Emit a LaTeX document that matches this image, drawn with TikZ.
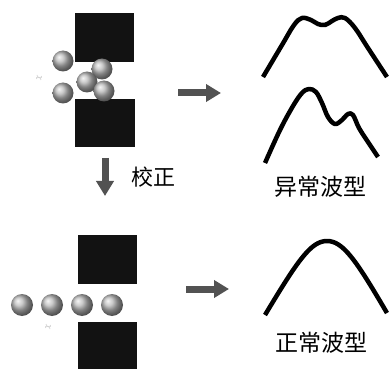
\documentclass[tikz,border=0pt]{standalone}
\usepackage{fontspec}
\newfontfamily\cjk{Noto Sans CJK SC}
\usetikzlibrary{arrows.meta,shadings}
\begin{document}
\begin{tikzpicture}[x=1pt,y=-1pt,
  die/.style={fill=black!93,draw=none},
  ballstyle/.style={shading=ball,ball color=gray!55},
  bigarrow/.style={draw=black!68,line width=7pt,-{Triangle[width=17pt,length=15pt]}},
  wave/.style={line width=4.5pt,line join=round},
  label/.style={font=\cjk\fontsize{23}{23}\selectfont,inner sep=0pt},
  faintmark/.style={draw=black!18,line width=0.6pt,-{Stealth[length=2pt]}}]
\useasboundingbox (0,0) rectangle (389,369);
\fill[white] (0,0) rectangle (389,369);

% --- before correction: two dies with scattered balls
\fill[die] (75,13) rectangle (134,62);
\fill[die] (75,99) rectangle (135,147);
\foreach \bx/\by in {63/61,102/69,87/82,63/93,104/91}
  \shade[ballstyle] (\bx,\by) circle (10.5);
\draw[faintmark] (37,75) arc (180:20:2.5);
\draw[faintmark] (41,80) arc (0:-160:2.5);

% --- after correction: two dies with aligned balls
\fill[die] (78,235) rectangle (137,284);
\fill[die] (78,322) rectangle (137,372);
\foreach \bx in {22,52,82,112}
  \shade[ballstyle] (\bx,305) circle (11);
\draw[faintmark] (46,324) arc (180:20:2.5);
\draw[faintmark] (50,329) arc (0:-160:2.5);

% --- arrows
\coordinate (t1) at (178,93);
\coordinate (t2) at (221,93);
\coordinate (d1) at (105,158);
\coordinate (d2) at (105,196);
\coordinate (b1) at (186,289);
\coordinate (b2) at (229,289);
\draw[bigarrow] (t1) -- (t2);
\draw[bigarrow] (d1) -- (d2);
\draw[bigarrow] (b1) -- (b2);
\node[label,font=\cjk\fontsize{22}{22}\selectfont] (cal) at (153,177) {校正};

% --- abnormal waveforms
\draw[wave] plot[smooth,tension=0.6] coordinates
  {(263,77) (282,45) (294,25) (302,18) (311,20) (318,24) (325,25) (332,21) (338,18) (345,18) (355,28) (368,48) (387,77)};
\draw[wave] plot[smooth,tension=0.6] coordinates
  {(265,163) (280,130) (293,106) (302,93) (309,89) (316,92) (322,103) (328,117) (335,124) (342,120) (348,114) (353,115) (359,128) (368,142) (378,157)};
\node[label] (abn) at (320,187) {异常波型};

% --- normal waveform
\draw[wave] (265,315) .. controls (298,260) and (311,241) .. (327,241)
  .. controls (343,241) and (356,260) .. (387,313);
\node[label] (nor) at (321,343) {正常波型};
\end{tikzpicture}
\end{document}
